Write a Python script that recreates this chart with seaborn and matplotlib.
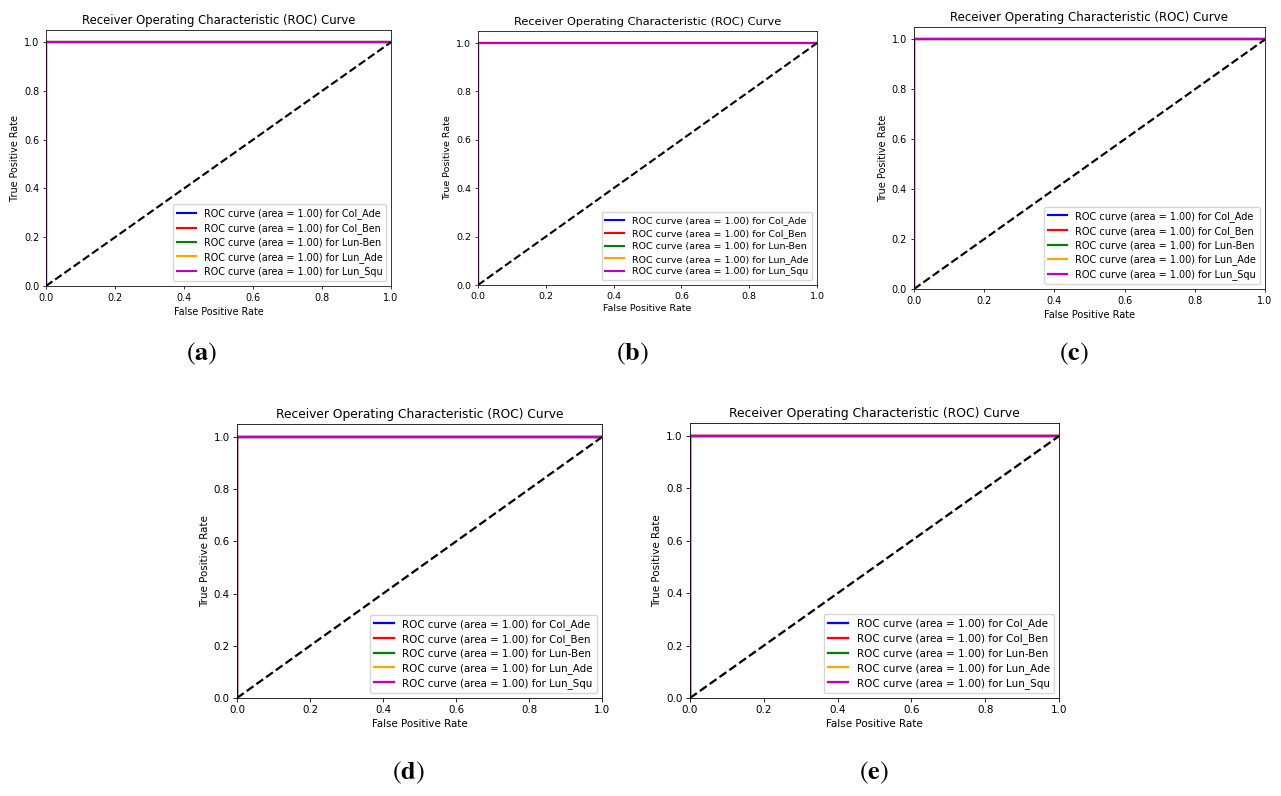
import numpy as np
import matplotlib
matplotlib.use("Agg")
import matplotlib.pyplot as plt
import seaborn as sns
import pandas as pd

# Klassen und Farben der ROC-Kurven
classes = ["Col_Ade", "Col_Ben", "Lun-Ben", "Lun_Ade", "Lun_Squ"]
colors = ["blue", "red", "green", "orange", "m"]

# ROC-Punkte (alle Modelle trennen perfekt)
fpr = [0.0, 0.0, 1.0]
tpr = [0.0, 1.0, 1.0]

# AUC je Panel und Klasse
panel_names = ["a", "b", "c", "d", "e"]
auc_values = [
    [1.00, 1.00, 1.00, 1.00, 1.00],
    [1.00, 1.00, 1.00, 1.00, 1.00],
    [1.00, 1.00, 1.00, 1.00, 1.00],
    [1.00, 1.00, 1.00, 1.00, 1.00],
    [1.00, 1.00, 1.00, 1.00, 1.00],
]

W, H = 1281, 796
# Achsen-Rahmen in Pixel: links, rechts, oben, unten
boxes = [
    (46, 391, 30, 286),
    (478, 817, 31, 285),
    (914, 1265, 27, 289),
    (237, 602, 424, 698),
    (690, 1059, 423, 698),
]
# Position der Panel-Beschriftung (Pixel)
label_pos = [(202, 354), (632, 354), (1074, 354), (408, 773), (874, 773)]

plt.rcParams["mathtext.fontset"] = "stix"

fig = plt.figure(figsize=(W / 100, H / 100), dpi=100)

for name, aucs, (l, r, t, b), (lx, ly) in zip(panel_names, auc_values, boxes, label_pos):
    s = (r - l) / 496.0
    ax = fig.add_axes([l / W, 1 - b / H, (r - l) / W, (b - t) / H])
    for cls, col, auc in zip(classes, colors, aucs):
        df = pd.DataFrame({"fpr": fpr, "tpr": tpr})
        sns.lineplot(data=df, x="fpr", y="tpr", ax=ax, color=col, lw=2.2 * s,
                     sort=False, estimator=None,
                     label=f"ROC curve (area = {auc:.2f}) for {cls}")
    sns.lineplot(x=[0, 1], y=[0, 1], ax=ax, color="k", lw=2.2 * s, linestyle="--")
    ax.set_xlim(0.0, 1.0)
    ax.set_ylim(0.0, 1.05)
    ax.set_xlabel("False Positive Rate", fontsize=10 * s, labelpad=4 * s)
    ax.set_ylabel("True Positive Rate", fontsize=10 * s, labelpad=4 * s)
    ax.set_title("Receiver Operating Characteristic (ROC) Curve", fontsize=12 * s, pad=6 * s)
    ax.tick_params(labelsize=10 * s, length=3.5 * s, width=0.8 * s, pad=3.5 * s)
    for sp in ax.spines.values():
        sp.set_linewidth(0.8 * s)
    ax.legend(loc="lower right", fontsize=10 * s, labelspacing=0.4)
    fig.text(lx / W, 1 - ly / H, r"$\mathrm{(}\mathbf{" + name + r"}\mathrm{)}$",
             fontsize=19, ha="center", va="center")

fig.savefig("out.png", dpi=100)
